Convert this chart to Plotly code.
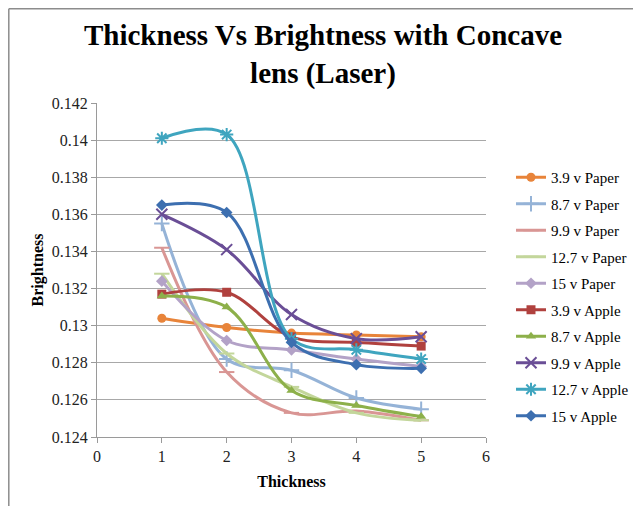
import plotly.graph_objects as go

thickness = [1, 2, 3, 4, 5]

series_names = ["3.9 v Paper", "8.7 v Paper", "9.9 v Paper", "12.7 v Paper", "15 v Paper",
                "3.9 v Apple", "8.7 v Apple", "9.9 v Apple", "12.7 v Apple", "15 v Apple"]

paper_3_9 = [0.1304, 0.1299, 0.1296, 0.1295, 0.1294]
paper_8_7 = [0.1355, 0.1282, 0.1276, 0.1261, 0.1255]
paper_9_9 = [0.1342, 0.1275, 0.1253, 0.1254, 0.1249]
paper_12_7 = [0.1328, 0.1285, 0.1267, 0.1253, 0.1249]
paper_15 = [0.1324, 0.1292, 0.1287, 0.1282, 0.1278]
apple_3_9 = [0.1317, 0.1318, 0.1294, 0.1291, 0.1289]
apple_8_7 = [0.1316, 0.1310, 0.1265, 0.1257, 0.1251]
apple_9_9 = [0.1360, 0.1341, 0.1306, 0.1293, 0.1294]
apple_12_7 = [0.1401, 0.1403, 0.1293, 0.1287, 0.1282]
apple_15 = [0.1365, 0.1361, 0.1291, 0.1279, 0.1277]

y_ticks = [0.124, 0.126, 0.128, 0.13, 0.132, 0.134, 0.136, 0.138, 0.14, 0.142]
x_ticks = [0, 1, 2, 3, 4, 5, 6]

all_values = [paper_3_9, paper_8_7, paper_9_9, paper_12_7, paper_15,
              apple_3_9, apple_8_7, apple_9_9, apple_12_7, apple_15]
colors = ["#E8843A", "#95B3D7", "#D99694", "#C3D69B", "#B3A2C7",
          "#B0413E", "#8DB04A", "#6A4E96", "#3FA5BF", "#3D6FB0"]
symbols = ["circle", "cross-thin", "line-ew", "line-ew", "diamond",
           "square", "triangle-up", "x-thin", "asterisk", "diamond"]

fig = go.Figure()
for i, (name, vals) in enumerate(zip(series_names, all_values)):
    sym = symbols[i]
    thin = sym in ("cross-thin", "x-thin", "asterisk", "line-ew")
    fig.add_trace(go.Scatter(
        x=thickness, y=vals, name=name, mode="lines+markers",
        line=dict(color=colors[i], width=3, shape="spline", smoothing=1.0),
        marker=dict(symbol=sym, size=9 if not thin else 11, color=colors[i],
                    line=dict(color=colors[i], width=2 if thin else 0)),
        legendgroup=f"g{i}",
    ))

# The page body adds an 8px offset, so figure coordinates = reference - 8
W, H = 633, 498
L, T = 89, 95
PW, PH = 389, 334
R = W - L - PW
B = H - T - PH

font_family = "Liberation Serif"
fig.update_layout(
    width=W, height=H,
    paper_bgcolor="white", plot_bgcolor="white",
    margin=dict(l=L, r=R, t=T, b=B, autoexpand=False),
    title=dict(text="<b>Thickness Vs Brightness with Concave<br>lens (Laser)</b>",
               x=(323 - 8) / W, xanchor="center", y=1 - 37 / H, yanchor="top",
               font=dict(family=font_family, size=29, color="black")),
    font=dict(family=font_family, color="#333333"),
    showlegend=True,
    legend=dict(x=(511 - 8 - L) / PW, y=1 - (161 - 8 - T) / PH, xanchor="left", yanchor="top",
                font=dict(family=font_family, size=15, color="black"),
                tracegroupgap=4, itemwidth=30, bgcolor="rgba(0,0,0,0)"),
    xaxis=dict(range=[0, 6], tickvals=x_ticks, showgrid=False,
               showline=True, linecolor="#9A9A9A", linewidth=1,
               ticks="outside", ticklen=5, tickcolor="#9A9A9A",
               tickfont=dict(size=16, color="#222222"), zeroline=False, automargin=False,
               title=dict(text="<b>Thickness</b>", font=dict(size=16, color="black"), standoff=11)),
    yaxis=dict(range=[0.124, 0.142], tickvals=y_ticks, showgrid=True,
               gridcolor="#A8A8A8", gridwidth=1,
               showline=True, linecolor="#9A9A9A", linewidth=1,
               ticks="outside", ticklen=5, tickcolor="#9A9A9A",
               tickfont=dict(size=16, color="#222222"), zeroline=False, automargin=False,
               title=dict(text="<b>Brightness</b>", font=dict(size=16, color="black"), standoff=4)),
)

# chart-area border (top and left edges)
def px_x(p):
    return (p - 8 - L) / PW
def px_y(p):
    return (H - B - (p - 8)) / PH
fig.add_shape(type="line", xref="paper", yref="paper",
              x0=px_x(8.8), x1=px_x(660), y0=px_y(8.8), y1=px_y(8.8),
              line=dict(color="#8C8C8C", width=1.5))
fig.add_shape(type="line", xref="paper", yref="paper",
              x0=px_x(8.8), x1=px_x(8.8), y0=px_y(8.8), y1=px_y(520),
              line=dict(color="#8C8C8C", width=1.5))

fig.write_html("out.html")
